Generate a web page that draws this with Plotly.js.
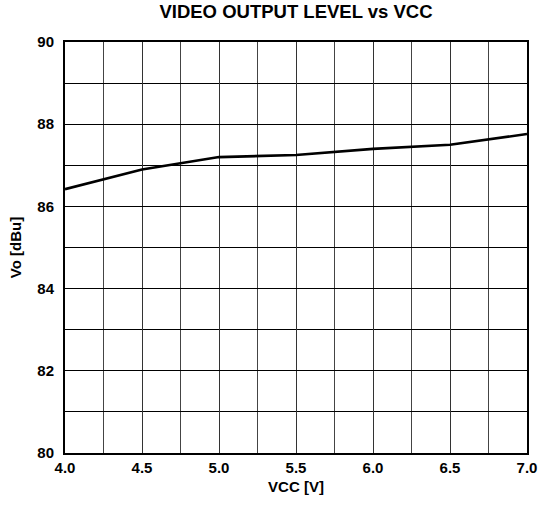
<!DOCTYPE html>
<html>
<head>
<meta charset="utf-8">
<script src="https://cdn.plot.ly/plotly-3.0.1.min.js"></script>
<style>html,body{margin:0;padding:0;background:#fff;}#chart{width:547px;height:511px;}</style>
</head>
<body>
<div id="chart"></div>
<script>
const vcc = [4.0, 4.5, 5.0, 5.5, 6.0, 6.5, 7.0];
const vo = [86.42, 86.9, 87.2, 87.25, 87.4, 87.5, 87.76];
const xTicks = [4.0, 4.5, 5.0, 5.5, 6.0, 6.5, 7.0];
const xTickLabels = ["4.0", "4.5", "5.0", "5.5", "6.0", "6.5", "7.0"];
const yTicks = [80, 82, 84, 86, 88, 90];

const font = {family: "Liberation Sans, Arial, sans-serif", color: "#000"};

Plotly.newPlot("chart", [{
  x: vcc, y: vo, type: "scatter", mode: "lines",
  line: {color: "#000", width: 2.6}, hoverinfo: "none"
}], {
  width: 547, height: 511,
  margin: {l: 65, r: 20, t: 42, b: 58},
  paper_bgcolor: "#fff", plot_bgcolor: "#fff",
  showlegend: false,
  title: {text: "<b>VIDEO OUTPUT LEVEL vs VCC</b>", font: Object.assign({size: 18.5}, font), xref: "paper", x: 0.5, xanchor: "center", yref: "container", y: 0.99, yanchor: "top"},
  xaxis: {
    range: [4, 7], tickvals: xTicks, ticktext: xTickLabels.map(t => "<b>" + t + "</b>"),
    tickfont: Object.assign({size: 15}, font),
    showgrid: true, gridcolor: "#333", gridwidth: 1,
    minor: {tickvals: [4.25, 4.75, 5.25, 5.75, 6.25, 6.75], showgrid: true, gridcolor: "#444", gridwidth: 1, ticks: ""},
    showline: true, linecolor: "#000", linewidth: 2, mirror: true,
    ticks: "", zeroline: false,
    title: {text: "<b>VCC [V]</b>", font: Object.assign({size: 15}, font), standoff: 6}
  },
  yaxis: {
    range: [80, 90], tickvals: yTicks, ticktext: yTicks.map(t => "<b>" + t + "</b>"),
    tickfont: Object.assign({size: 15}, font),
    showgrid: true, gridcolor: "#000", gridwidth: 1,
    minor: {tickvals: [81, 83, 85, 87, 89], showgrid: true, gridcolor: "#000", gridwidth: 1, ticks: ""},
    showline: true, linecolor: "#000", linewidth: 2, mirror: true,
    ticks: "", zeroline: false, ticklabelstandoff: 6,
    title: {text: "<b>Vo [dBu]</b>", font: Object.assign({size: 15}, font), standoff: 12}
  }
}, {staticPlot: true, displayModeBar: false});
</script>
</body>
</html>
